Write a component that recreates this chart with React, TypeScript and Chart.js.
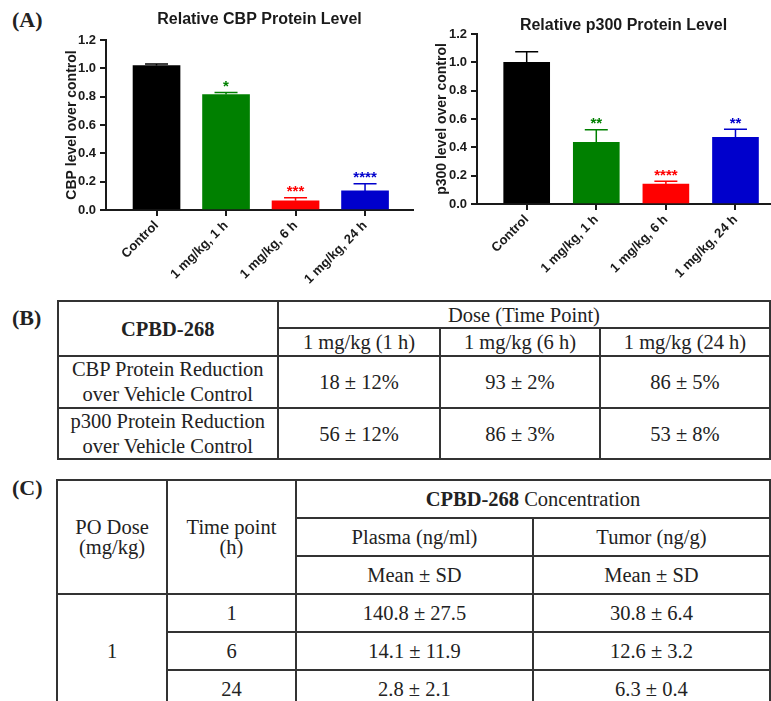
import React, { useEffect, useRef } from "react";
import { Chart, registerables } from "chart.js";

Chart.register(...registerables);

// ---------- data ----------
const categories = ["Control", "1 mg/kg, 1 h", "1 mg/kg, 6 h", "1 mg/kg, 24 h"];
const barColors = ["#000000", "#008000", "#ff0000", "#0000cc"];
const yTicks = [0, 0.2, 0.4, 0.6, 0.8, 1.0, 1.2];

const cbpMeans = [1.02, 0.815, 0.065, 0.135];
const cbpErrors = [0.01, 0.015, 0.022, 0.05];
const cbpStars = ["", "*", "***", "****"];

const p300Means = [1.0, 0.435, 0.14, 0.47];
const p300Errors = [0.075, 0.09, 0.02, 0.058];
const p300Stars = ["", "**", "****", "**"];

const tableBCompound = "CPBD-268";
const tableBHeader = "Dose (Time Point)";
const tableBDoseLabels = ["1 mg/kg (1 h)", "1 mg/kg (6 h)", "1 mg/kg (24 h)"];
const tableBRowLabels = [
  ["CBP Protein Reduction", "over Vehicle Control"],
  ["p300 Protein Reduction", "over Vehicle Control"],
];
const tableBCbp = ["18 ± 12%", "93 ± 2%", "86 ± 5%"];
const tableBP300 = ["56 ± 12%", "86 ± 3%", "53 ± 8%"];

const tableCDoseHeader = ["PO Dose", "(mg/kg)"];
const tableCTimeHeader = ["Time point", "(h)"];
const tableCMatrices = ["Plasma (ng/ml)", "Tumor (ng/g)"];
const tableCStat = "Mean ± SD";
const tableCDose = "1";
const tableCTimePoints = ["1", "6", "24"];
const tableCPlasma = ["140.8 ± 27.5", "14.1 ± 11.9", "2.8 ± 2.1"];
const tableCTumor = ["30.8 ± 6.4", "12.6 ± 3.2", "6.3 ± 0.4"];

// ---------- styles ----------
const SANS = "'Liberation Sans', Arial, sans-serif";
const SERIF = "'Liberation Serif', 'Times New Roman', serif";
const INK = "#1a1a1a";

const errorBarPlugin = {
  id: "errorBars",
  afterDatasetsDraw(chart: any, _args: any, opts: any) {
    const { ctx } = chart;
    const meta = chart.getDatasetMeta(0);
    const yScale = chart.scales.y;
    const means: number[] = opts.means || [];
    const errs: number[] = opts.errors || [];
    const stars: string[] = opts.stars || [];
    meta.data.forEach((bar: any, i: number) => {
      const x = bar.x;
      const yTop = yScale.getPixelForValue(means[i]);
      const yCap = yScale.getPixelForValue(means[i] + errs[i]);
      ctx.save();
      ctx.strokeStyle = barColors[i];
      ctx.lineWidth = 1.5;
      ctx.beginPath();
      ctx.moveTo(x, yTop);
      ctx.lineTo(x, yCap);
      ctx.moveTo(x - 11.5, yCap);
      ctx.lineTo(x + 11.5, yCap);
      ctx.stroke();
      if (stars[i]) {
        ctx.fillStyle = barColors[i];
        ctx.font = `bold 15px ${SANS}`;
        ctx.textAlign = "center";
        ctx.textBaseline = "alphabetic";
        ctx.fillText(stars[i], x, yCap - 1.5);
      }
      ctx.restore();
    });
  },
};

type BarProps = {
  title: string;
  yTitle: string;
  means: number[];
  errors: number[];
  stars: string[];
  left: number;
  width: number;
  height: number;
  area: { left: number; right: number; top: number; bottom: number };
  titleTop: number;
  yTitleX: number;
  xMin: number;
  xMax: number;
  barThickness: number;
};

function BarChart(p: BarProps) {
  const ref = useRef<HTMLCanvasElement>(null);
  useEffect(() => {
    if (!ref.current) return;
    const tickFont = { family: SANS, size: 13, weight: "bold" as const };
    const axisGrid = {
      display: true,
      drawOnChartArea: false,
      drawTicks: true,
      offset: false,
      tickLength: 6,
      tickWidth: 2,
      tickColor: INK,
      color: INK,
      lineWidth: 2,
    };
    const axisBorder = { display: true, color: INK, width: 2 };
    const chart = new Chart(ref.current, {
      type: "bar",
      data: {
        datasets: [
          {
            data: p.means.map((v, i) => ({ x: i, y: v })) as any,
            backgroundColor: barColors,
            borderWidth: 0,
            barThickness: p.barThickness,
          },
        ],
      },
      options: {
        animation: false,
        responsive: false,
        maintainAspectRatio: false,
        devicePixelRatio: 1,
        events: [],
        layout: {
          padding: { left: 0, right: p.width - p.area.right, top: p.titleTop, bottom: 0 },
        },
        plugins: {
          legend: { display: false },
          tooltip: { enabled: false },
          title: {
            display: true,
            text: p.title,
            fullSize: false,
            color: INK,
            font: { family: SANS, size: 16, weight: "bold", lineHeight: 1 },
            padding: { top: 0, bottom: Math.max(0, p.area.top - p.titleTop - 16) },
          },
          errorBars: { means: p.means, errors: p.errors, stars: p.stars },
        } as any,
        scales: {
          x: {
            type: "linear",
            offset: false,
            min: p.xMin,
            max: p.xMax,
            afterBuildTicks: (axis: any) => {
              axis.ticks = categories.map((_, i) => ({ value: i }));
            },
            afterFit: (axis: any) => {
              axis.height = p.height - p.area.bottom;
            },
            ticks: {
              callback: (v: any) => categories[Number(v)] ?? "",
              minRotation: 45,
              maxRotation: 45,
              autoSkip: false,
              font: tickFont,
              color: INK,
              padding: 2,
            },
            grid: axisGrid,
            border: axisBorder,
          },
          y: {
            min: 0,
            max: 1.2,
            afterBuildTicks: (axis: any) => {
              axis.ticks = yTicks.map((v) => ({ value: v }));
            },
            afterFit: (axis: any) => {
              axis.width = p.area.left;
            },
            ticks: {
              callback: (v: any) => Number(v).toFixed(1),
              font: tickFont,
              color: INK,
              padding: 4,
            },
            grid: axisGrid,
            border: axisBorder,
            title: {
              display: true,
              text: p.yTitle,
              color: INK,
              font: { family: SANS, size: 14, weight: "bold", lineHeight: 1.2 },
              padding: { top: p.yTitleX - 8.4, bottom: 0 },
            },
          },
        },
      } as any,
      plugins: [errorBarPlugin],
    });
    return () => chart.destroy();
  }, []);
  return (
    <canvas
      ref={ref}
      width={p.width}
      height={p.height}
      style={{ position: "absolute", left: p.left, top: 0, width: p.width, height: p.height }}
    />
  );
}

function Cell(props: {
  x0: number;
  x1: number;
  y0: number;
  y1: number;
  lineHeight?: number;
  bold?: boolean;
  children: React.ReactNode;
}) {
  const { x0, x1, y0, y1 } = props;
  return (
    <div
      style={{
        position: "absolute",
        left: x0 - 1,
        top: y0 - 1,
        width: x1 - x0 + 2,
        height: y1 - y0 + 2,
        border: "2px solid #333",
        boxSizing: "border-box",
        display: "flex",
        flexDirection: "column",
        alignItems: "center",
        justifyContent: "center",
        textAlign: "center",
        fontFamily: SERIF,
        fontSize: 20.5,
        lineHeight: `${props.lineHeight ?? 24}px`,
        fontWeight: props.bold ? "bold" : "normal",
        color: "#222",
        whiteSpace: "nowrap",
      }}
    >
      {props.children}
    </div>
  );
}

function Lines({ lines }: { lines: string[] }) {
  return (
    <>
      {lines.map((l, i) => (
        <div key={i}>{l}</div>
      ))}
    </>
  );
}

function PanelLabel({ text, top }: { text: string; top: number }) {
  return (
    <div
      style={{
        position: "absolute",
        left: 12,
        top,
        fontFamily: SERIF,
        fontWeight: "bold",
        fontSize: 22,
        lineHeight: "22px",
        color: "#222",
      }}
    >
      {text}
    </div>
  );
}

function TableB() {
  const c = [57.5, 278, 440, 600, 770];
  const r = [301, 328, 356, 408, 459];
  const rowsVals = [tableBCbp, tableBP300];
  return (
    <>
      <Cell x0={c[0]} x1={c[1]} y0={r[0]} y1={r[2]} bold>
        {tableBCompound}
      </Cell>
      <Cell x0={c[1]} x1={c[4]} y0={r[0]} y1={r[1]}>
        {tableBHeader}
      </Cell>
      {tableBDoseLabels.map((d, i) => (
        <Cell key={d} x0={c[1 + i]} x1={c[2 + i]} y0={r[1]} y1={r[2]}>
          {d}
        </Cell>
      ))}
      {tableBRowLabels.map((lbl, j) => (
        <React.Fragment key={j}>
          <Cell x0={c[0]} x1={c[1]} y0={r[2 + j]} y1={r[3 + j]} lineHeight={25}>
            <Lines lines={lbl} />
          </Cell>
          {rowsVals[j].map((v, i) => (
            <Cell key={i} x0={c[1 + i]} x1={c[2 + i]} y0={r[2 + j]} y1={r[3 + j]}>
              {v}
            </Cell>
          ))}
        </React.Fragment>
      ))}
    </>
  );
}

function TableC() {
  const c = [57, 167, 296, 533, 770];
  const r = [480, 518, 556, 594, 632, 670, 708];
  return (
    <>
      <Cell x0={c[0]} x1={c[1]} y0={r[0]} y1={r[3]} lineHeight={20}>
        <Lines lines={tableCDoseHeader} />
      </Cell>
      <Cell x0={c[1]} x1={c[2]} y0={r[0]} y1={r[3]} lineHeight={20}>
        <Lines lines={tableCTimeHeader} />
      </Cell>
      <Cell x0={c[2]} x1={c[4]} y0={r[0]} y1={r[1]}>
        <span>
          <b>CPBD-268</b> Concentration
        </span>
      </Cell>
      {tableCMatrices.map((m, i) => (
        <React.Fragment key={m}>
          <Cell x0={c[2 + i]} x1={c[3 + i]} y0={r[1]} y1={r[2]}>
            {m}
          </Cell>
          <Cell x0={c[2 + i]} x1={c[3 + i]} y0={r[2]} y1={r[3]}>
            {tableCStat}
          </Cell>
        </React.Fragment>
      ))}
      <Cell x0={c[0]} x1={c[1]} y0={r[3]} y1={r[6]}>
        {tableCDose}
      </Cell>
      {tableCTimePoints.map((t, i) => (
        <React.Fragment key={t}>
          <Cell x0={c[1]} x1={c[2]} y0={r[3 + i]} y1={r[4 + i]}>
            {t}
          </Cell>
          <Cell x0={c[2]} x1={c[3]} y0={r[3 + i]} y1={r[4 + i]}>
            {tableCPlasma[i]}
          </Cell>
          <Cell x0={c[3]} x1={c[4]} y0={r[3 + i]} y1={r[4 + i]}>
            {tableCTumor[i]}
          </Cell>
        </React.Fragment>
      ))}
    </>
  );
}

export default function App() {
  return (
    <div
      style={{
        position: "absolute",
        left: 0,
        top: 0,
        width: 771,
        height: 701,
        background: "#fff",
        overflow: "hidden",
      }}
    >
      <PanelLabel text="(A)" top={9} />
      <BarChart
        title="Relative CBP Protein Level"
        yTitle="CBP level over control"
        means={cbpMeans}
        errors={cbpErrors}
        stars={cbpStars}
        left={0}
        width={420}
        height={290}
        area={{ left: 106, right: 413, top: 40, bottom: 210 }}
        titleTop={12}
        yTitleX={72}
        xMin={-0.727}
        xMax={3.69}
        barThickness={47}
      />
      <BarChart
        title="Relative p300 Protein Level"
        yTitle="p300 level over control"
        means={p300Means}
        errors={p300Errors}
        stars={p300Stars}
        left={420}
        width={351}
        height={290}
        area={{ left: 57, right: 350, top: 34, bottom: 204 }}
        titleTop={18}
        yTitleX={22}
        xMin={-0.714}
        xMax={3.496}
        barThickness={46}
      />
      <PanelLabel text="(B)" top={307} />
      <TableB />
      <PanelLabel text="(C)" top={477} />
      <TableC />
    </div>
  );
}
